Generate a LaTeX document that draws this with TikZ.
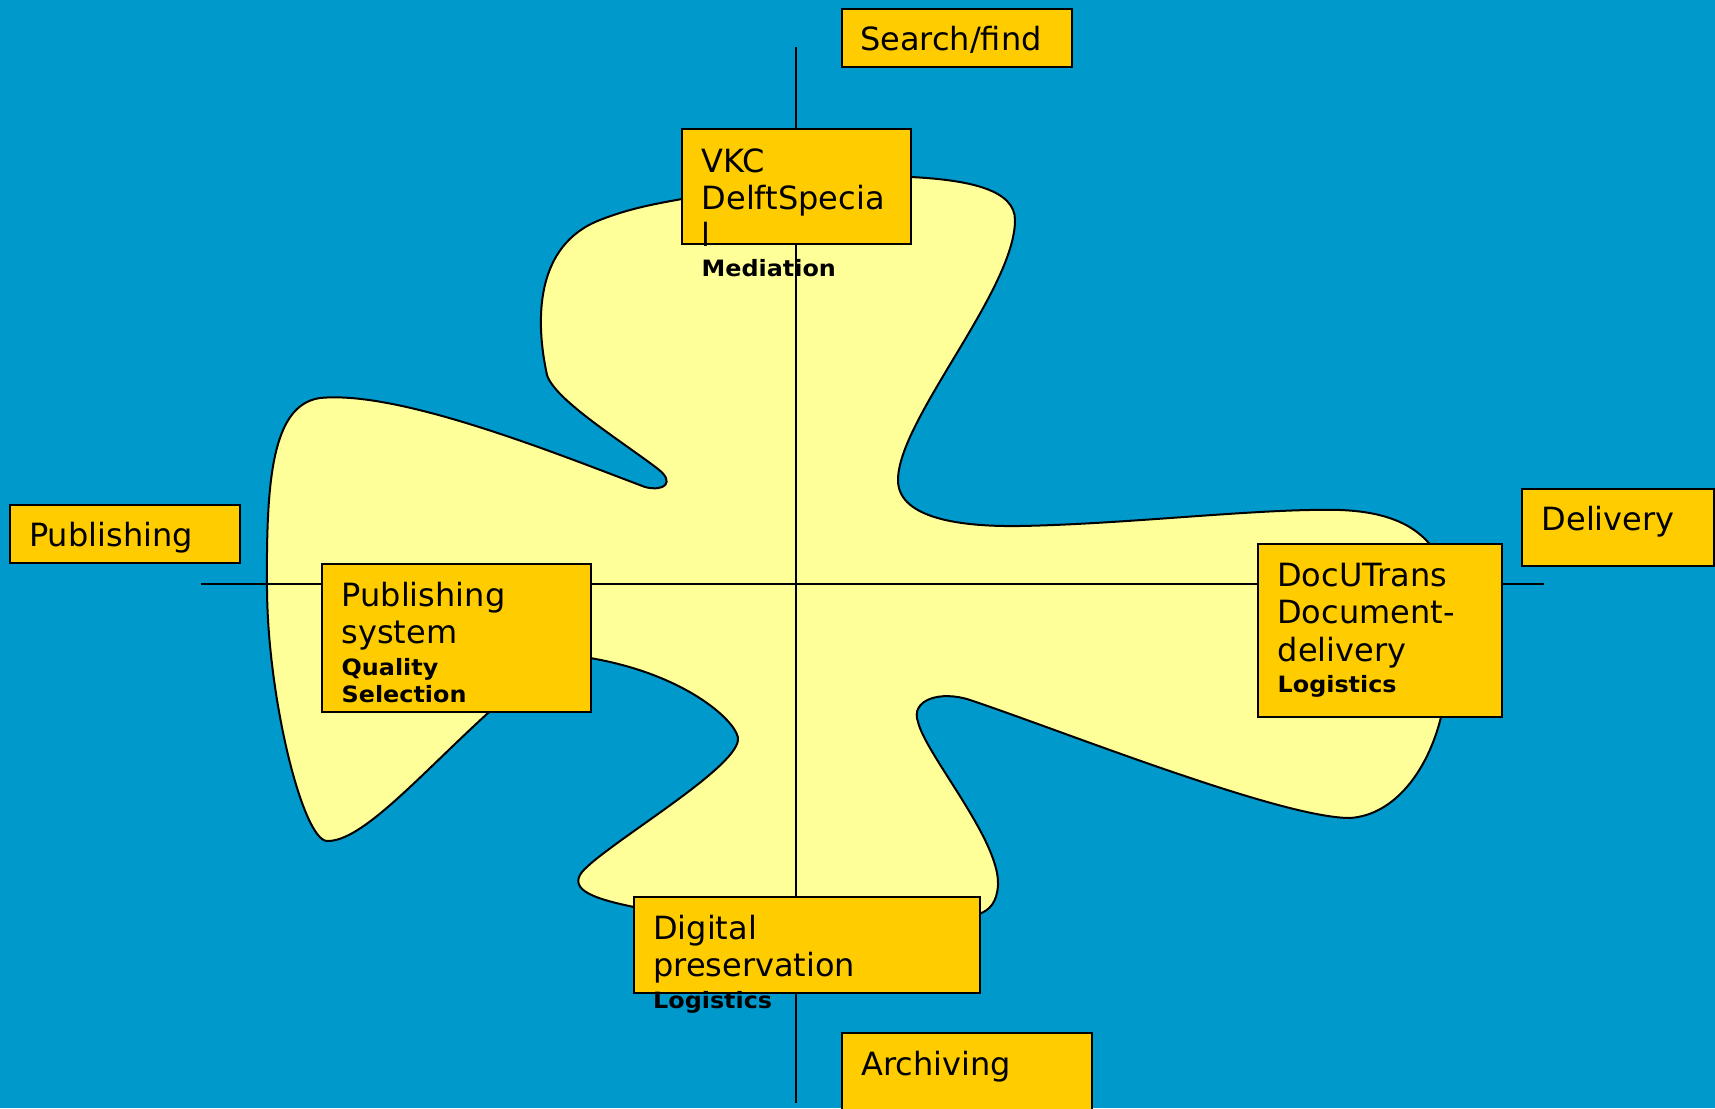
\documentclass[tikz,border=0pt]{standalone}
\usepackage{fontspec}
\setmainfont{DejaVu Sans}
\newfontfamily\boldfam{DejaVu Sans}[FakeStretch=1.06]
\definecolor{bgblue}{RGB}{0,153,204}
\definecolor{blobyellow}{RGB}{255,255,153}
\definecolor{boxyellow}{RGB}{255,204,0}
\tikzset{
  box/.style={draw=black, line width=2pt, fill=boxyellow, inner sep=0pt, outer sep=0pt, anchor=north west},
  tx/.style={anchor=base west, inner sep=0pt, font=\fontsize{32}{38}\selectfont},
  bt/.style={anchor=base west, inner sep=0pt, font=\boldfam\bfseries\fontsize{22.5}{26}\selectfont},
  axisline/.style={line width=2pt, draw=black},
  blobshape/.style={line width=2pt, draw=black, fill=blobyellow},
}
\begin{document}
\begin{tikzpicture}[x=1pt,y=-1pt]
\useasboundingbox (0,0) rectangle (1715,1108);
\fill[bgblue] (0,0) rectangle (1715,1108);
\clip (0,0) rectangle (1715,1108);
% blob
\draw[blobshape] (682,199) -- (911,177)
  .. controls (970,180) and (1015,190) .. (1015,220)
  .. controls (1015,290) and (898,420) .. (898,480)
  .. controls (898,515) and (950,527) .. (1020,526)
  .. controls (1130,524) and (1260,508) .. (1340,510)
  .. controls (1395,512) and (1425,530) .. (1440,560)
  .. controls (1450,590) and (1450,680) .. (1441,717)
  .. controls (1428,770) and (1395,815) .. (1350,818)
  .. controls (1280,818) and (1060,730) .. (970,700)
  .. controls (940,690) and (910,700) .. (918,722)
  .. controls (926,755) and (1000,840) .. (998,885)
  .. controls (997,902) and (990,910) .. (979,914)
  -- (634,907)
  .. controls (595,899) and (568,890) .. (582,872)
  .. controls (605,845) and (735,770) .. (738,740)
  .. controls (740,725) and (690,675) .. (590,658)
  -- (488,713)
  .. controls (420,775) and (362,842) .. (327,841)
  .. controls (303,840) and (268,700) .. (267,590)
  .. controls (266,480) and (272,405) .. (320,398)
  .. controls (400,390) and (560,455) .. (645,487)
  .. controls (665,492) and (675,482) .. (658,469)
  .. controls (620,440) and (555,400) .. (547,375)
  .. controls (535,320) and (535,245) .. (600,220)
  .. controls (630,208) and (660,203) .. (682,199)
  -- cycle;
% axes
\coordinate (vtop) at (795.7,47);
\coordinate (vbot) at (795.7,1103);
\coordinate (hleft) at (200.5,584.3);
\coordinate (hright) at (1544,584.3);
\draw[axisline] (vtop) -- (vbot);
\draw[axisline] (hleft) -- (hright);
% boxes
\node[box, minimum width=230pt, minimum height=58pt] (search) at (842,9) {};
\node[box, minimum width=229pt, minimum height=115pt] (vkc) at (682,129) {};
\node[box, minimum width=230.5pt, minimum height=58pt] (pub) at (9.5,505) {};
\node[box, minimum width=268.5pt, minimum height=148pt] (pubsys) at (322,564) {};
\node[box, minimum width=244pt, minimum height=173pt] (docu) at (1258,544) {};
\node[box, minimum width=192pt, minimum height=77pt] (deliv) at (1522,489) {};
\node[box, minimum width=345.5pt, minimum height=95.5pt] (digi) at (634,897) {};
\node[box, minimum width=250pt, minimum height=90pt] (arch) at (842,1033) {};
% texts
\node[tx] (searcht) at (860,50.7) {Search/find};
\node[tx] (vkct1) at (701.5,172) {VKC};
\node[tx] (vkct2) at (701.5,209) {DelftSpecia};
\node[tx] (vkct3) at (701.5,246.5) {l};
\node[bt] (vkct4) at (701.5,276.7) {Mediation};
\node[tx] (pubt) at (29,546.7) {Publishing};
\node[tx] (pubsyst1) at (341.5,606.7) {Publishing};
\node[tx] (pubsyst2) at (341.5,643.5) {system};
\node[bt] (pubsyst3) at (341.5,675) {Quality};
\node[bt] (pubsyst4) at (341.5,702.5) {Selection};
\node[tx] (docut1) at (1277,586) {DocUTrans};
\node[tx] (docut2) at (1277,623.5) {Document-};
\node[tx] (docut3) at (1277.5,661) {delivery};
\node[bt] (docut4) at (1277.5,692.7) {Logistics};
\node[tx] (delivt) at (1541.5,530.7) {Delivery};
\node[tx] (digit1) at (653,939.3) {Digital};
\node[tx] (digit2) at (653,976.7) {preservation};
\node[bt] (digit3) at (653,1008.3) {Logistics};
\node[tx] (archt) at (861,1075) {Archiving};
\end{tikzpicture}
\end{document}
